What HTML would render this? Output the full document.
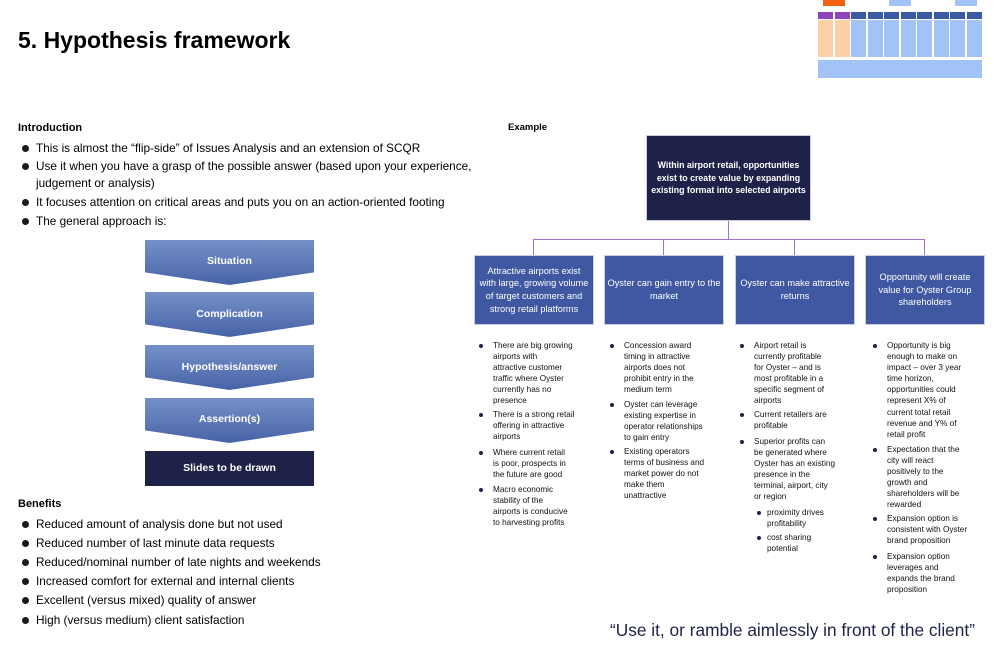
<!DOCTYPE html>
<html><head><meta charset="utf-8"><style>
*{margin:0;padding:0;box-sizing:border-box}
body{width:997px;height:660px;position:relative;background:#fff;font-family:"Liberation Sans",sans-serif;color:#000;overflow:hidden}
.a{position:absolute;white-space:nowrap}
.t{font-size:11.8px;line-height:14px}
.dot{position:absolute;width:7px;height:7px;border-radius:50%;background:#1a1a1a}
.box{position:absolute;background:#3f58a1;color:#fff;font-size:9.2px;text-align:center;display:flex;align-items:center;justify-content:center;line-height:12.7px;border:1px solid #c9cfe0}
.s{position:absolute;font-size:8.2px;line-height:11.1px;white-space:nowrap;color:#111}
.sd{position:absolute;width:4px;height:4px;border-radius:50%;background:#1f2248}
.ln{position:absolute;background:#a36dcf}
.fun{position:absolute;left:145px;width:169px;height:45px;clip-path:polygon(0 0,100% 0,100% 72%,50% 100%,0 72%);background:linear-gradient(#7591c7,#4763a8);color:#fff;font-weight:bold;font-size:10.5px;text-align:center;padding-top:15px}
</style></head><body>
<div class="a" style="left:823px;top:0;width:22px;height:6px;background:#f55f10"></div>
<div class="a" style="left:889px;top:0;width:22px;height:6px;background:#a1c3f7"></div>
<div class="a" style="left:955px;top:0;width:22px;height:6px;background:#a1c3f7"></div>
<div class="a" style="left:818px;top:12px;width:15px;height:7px;background:#8d44bd"></div>
<div class="a" style="left:835px;top:12px;width:15px;height:7px;background:#8d44bd"></div>
<div class="a" style="left:818px;top:20px;width:15px;height:37px;background:#fdd0a5"></div>
<div class="a" style="left:835px;top:20px;width:15px;height:37px;background:#fdd0a5"></div>
<div style="position:absolute;left:851px;top:12px">
<div style="display:flex;gap:1.5px">
<div style="width:15px"><div style="height:7px;background:#3b5aa5"></div><div style="height:37px;margin-top:1px;background:#a1c3f7"></div></div>
<div style="width:15px"><div style="height:7px;background:#3b5aa5"></div><div style="height:37px;margin-top:1px;background:#a1c3f7"></div></div>
<div style="width:15px"><div style="height:7px;background:#3b5aa5"></div><div style="height:37px;margin-top:1px;background:#a1c3f7"></div></div>
<div style="width:15px"><div style="height:7px;background:#3b5aa5"></div><div style="height:37px;margin-top:1px;background:#a1c3f7"></div></div>
<div style="width:15px"><div style="height:7px;background:#3b5aa5"></div><div style="height:37px;margin-top:1px;background:#a1c3f7"></div></div>
<div style="width:15px"><div style="height:7px;background:#3b5aa5"></div><div style="height:37px;margin-top:1px;background:#a1c3f7"></div></div>
<div style="width:15px"><div style="height:7px;background:#3b5aa5"></div><div style="height:37px;margin-top:1px;background:#a1c3f7"></div></div>
<div style="width:15px"><div style="height:7px;background:#3b5aa5"></div><div style="height:37px;margin-top:1px;background:#a1c3f7"></div></div>
</div></div>
<div class="a" style="left:818px;top:60px;width:164px;height:18px;background:#a1c3f7"></div>

<div class="a" style="left:18px;top:27px;font-size:23px;font-weight:bold">5. Hypothesis framework</div>

<div class="a" style="left:18px;top:122px;font-size:11px;font-weight:bold">Introduction</div>
<div class="dot" style="left:22px;top:145px"></div><div class="a t" style="left:36px;top:141px">This is almost the “flip-side” of Issues Analysis and an extension of SCQR</div>
<div class="dot" style="left:22px;top:163px"></div><div class="a t" style="left:36px;top:159px">Use it when you have a grasp of the possible answer (based upon your experience,</div>
<div class="a t" style="left:36px;top:176px">judgement or analysis)</div>
<div class="dot" style="left:22px;top:199px"></div><div class="a t" style="left:36px;top:195px">It focuses attention on critical areas and puts you on an action-oriented footing</div>
<div class="dot" style="left:22px;top:218px"></div><div class="a t" style="left:36px;top:214px">The general approach is:</div>

<div class="fun" style="top:240px">Situation</div>
<div class="fun" style="top:292px;padding-top:16px">Complication</div>
<div class="fun" style="top:345px;padding-top:16px">Hypothesis/answer</div>
<div class="fun" style="top:398px;padding-top:15px">Assertion(s)</div>
<div class="a" style="left:145px;top:451px;width:169px;height:35px;background:#1f2248;color:#fff;font-weight:bold;font-size:10.5px;text-align:center;line-height:35px">Slides to be drawn</div>

<div class="a" style="left:18px;top:498px;font-size:11px;font-weight:bold">Benefits</div>
<div class="dot" style="left:22px;top:521px"></div><div class="a t" style="left:36px;top:517px">Reduced amount of analysis done but not used</div>
<div class="dot" style="left:22px;top:540px"></div><div class="a t" style="left:36px;top:536px">Reduced number of last minute data requests</div>
<div class="dot" style="left:22px;top:559px"></div><div class="a t" style="left:36px;top:555px">Reduced/nominal number of late nights and weekends</div>
<div class="dot" style="left:22px;top:578px"></div><div class="a t" style="left:36px;top:574px">Increased comfort for external and internal clients</div>
<div class="dot" style="left:22px;top:597px"></div><div class="a t" style="left:36px;top:593px">Excellent (versus mixed) quality of answer</div>
<div class="dot" style="left:22px;top:617px"></div><div class="a t" style="left:36px;top:613px">High (versus medium) client satisfaction</div>

<div class="a" style="left:508px;top:122px;font-size:9.5px;font-weight:bold">Example</div>

<div class="box" style="left:646px;top:135px;width:165px;height:86px;background:#1f2248;font-weight:bold;font-size:8.8px">Within airport retail, opportunities<br>exist to create value by expanding<br>existing format into selected airports</div>
<div class="ln" style="left:728px;top:221px;width:1px;height:19px"></div>
<div class="ln" style="left:533px;top:239px;width:392px;height:1px"></div>
<div class="ln" style="left:533px;top:239px;width:1px;height:16px"></div>
<div class="ln" style="left:663px;top:239px;width:1px;height:16px"></div>
<div class="ln" style="left:794px;top:239px;width:1px;height:16px"></div>
<div class="ln" style="left:924px;top:239px;width:1px;height:16px"></div>
<div class="box" style="left:474px;top:255px;width:120px;height:70px">Attractive airports exist<br>with large, growing volume<br>of target customers and<br>strong retail platforms</div>
<div class="box" style="left:604px;top:255px;width:120px;height:70px">Oyster can gain entry to the<br>market</div>
<div class="box" style="left:735px;top:255px;width:120px;height:70px">Oyster can make attractive<br>returns</div>
<div class="box" style="left:865px;top:255px;width:120px;height:70px">Opportunity will create<br>value for Oyster Group<br>shareholders</div>

<div class="sd" style="left:479px;top:344px"></div><div class="s" style="left:493px;top:340px">There are big growing<br>airports with<br>attractive customer<br>traffic where Oyster<br>currently has no<br>presence</div>
<div class="sd" style="left:479px;top:413px"></div><div class="s" style="left:493px;top:409px">There is a strong retail<br>offering in attractive<br>airports</div>
<div class="sd" style="left:479px;top:451px"></div><div class="s" style="left:493px;top:447px">Where current retail<br>is poor, prospects in<br>the future are good</div>
<div class="sd" style="left:479px;top:488px"></div><div class="s" style="left:493px;top:484px">Macro economic<br>stability of the<br>airports is conducive<br>to harvesting profits</div>
<div class="sd" style="left:610px;top:344px"></div><div class="s" style="left:624px;top:340px">Concession award<br>timing in attractive<br>airports does not<br>prohibit entry in the<br>medium term</div>
<div class="sd" style="left:610px;top:403px"></div><div class="s" style="left:624px;top:399px">Oyster can leverage<br>existing expertise in<br>operator relationships<br>to gain entry</div>
<div class="sd" style="left:610px;top:450px"></div><div class="s" style="left:624px;top:446px">Existing operators<br>terms of business and<br>market power do not<br>make them<br>unattractive</div>
<div class="sd" style="left:740px;top:344px"></div><div class="s" style="left:754px;top:340px">Airport retail is<br>currently profitable<br>for Oyster – and is<br>most profitable in a<br>specific segment of<br>airports</div>
<div class="sd" style="left:740px;top:413px"></div><div class="s" style="left:754px;top:409px">Current retailers are<br>profitable</div>
<div class="sd" style="left:740px;top:440px"></div><div class="s" style="left:754px;top:436px">Superior profits can<br>be generated where<br>Oyster has an existing<br>presence in the<br>terminal, airport, city<br>or region</div>
<div class="sd" style="left:757px;top:511px"></div><div class="s" style="left:767px;top:507px">proximity drives<br>profitability</div>
<div class="sd" style="left:757px;top:536px"></div><div class="s" style="left:767px;top:532px">cost sharing<br>potential</div>
<div class="sd" style="left:873px;top:344px"></div><div class="s" style="left:887px;top:340px">Opportunity is big<br>enough to make on<br>impact – over 3 year<br>time horizon,<br>opportunities could<br>represent X% of<br>current total retail<br>revenue and Y% of<br>retail profit</div>
<div class="sd" style="left:873px;top:448px"></div><div class="s" style="left:887px;top:444px">Expectation that the<br>city will react<br>positively to the<br>growth and<br>shareholders will be<br>rewarded</div>
<div class="sd" style="left:873px;top:517px"></div><div class="s" style="left:887px;top:513px">Expansion option is<br>consistent with Oyster<br>brand proposition</div>
<div class="sd" style="left:873px;top:555px"></div><div class="s" style="left:887px;top:551px">Expansion option<br>leverages and<br>expands the brand<br>proposition</div>

<div class="a" style="left:610px;top:620px;font-size:17.3px;color:#1f2248">“Use it, or ramble aimlessly in front of the client”</div>
</body></html>
